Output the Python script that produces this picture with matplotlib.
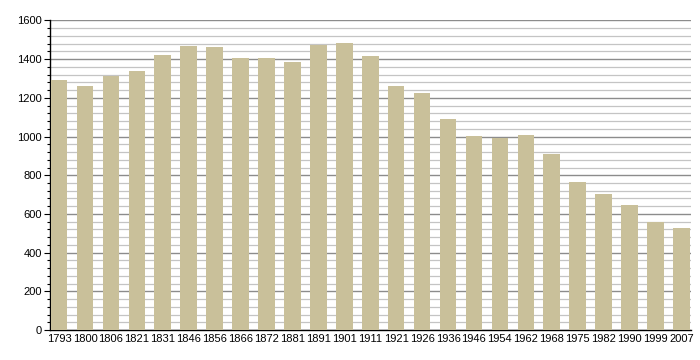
import matplotlib.pyplot as plt
import numpy as np
from matplotlib.ticker import MultipleLocator

years = ['1793', '1800', '1806', '1821', '1831', '1846', '1856', '1866', '1872',
         '1881', '1891', '1901', '1911', '1921', '1926', '1936', '1946', '1954',
         '1962', '1968', '1975', '1982', '1990', '1999', '2007']
population = [1290, 1259, 1314, 1337, 1424, 1466, 1461, 1404, 1404,
              1383, 1473, 1486, 1419, 1259, 1223, 1089, 1001, 995,
              1006, 908, 764, 702, 645, 556, 526]

plt.rcParams['font.family'] = ['Liberation Sans', 'DejaVu Sans']

fig = plt.figure(figsize=(7, 3.6), dpi=100)
ax = fig.add_axes([50/700, 30/360, 641/700, 309.5/360])

x = np.arange(len(years))
ax.bar(x, population, width=0.64, color='#c9c09a', zorder=3)

ax.set_ylim(0, 1600)
ax.set_xlim(-0.35, len(years) - 1 + 0.37)
ax.yaxis.set_major_locator(MultipleLocator(200))
ax.yaxis.set_minor_locator(MultipleLocator(40))
ax.grid(which='major', axis='y', color='#8c8c8c', linewidth=1.0, zorder=1)
ax.grid(which='minor', axis='y', color='#c4c4c4', linewidth=0.9, zorder=1)

ax.set_xticks(x)
ax.set_xticklabels(years, fontsize=8)
ax.tick_params(axis='x', length=0, pad=3)
ax.tick_params(axis='y', which='major', length=4, width=0.8, labelsize=8, pad=2)
ax.tick_params(axis='y', which='minor', length=2.5, width=0.8)

for s in ['top', 'right']:
    ax.spines[s].set_visible(False)
ax.spines['left'].set_linewidth(1.0)
ax.spines['bottom'].set_linewidth(1.0)

fig.savefig('out.png', dpi=100)
